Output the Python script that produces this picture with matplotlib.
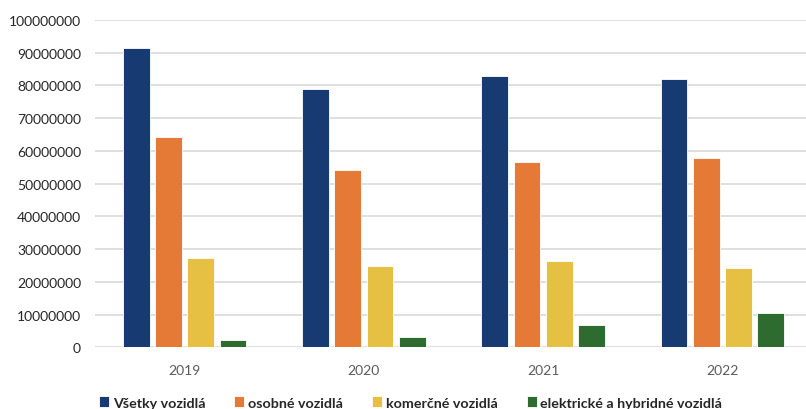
import matplotlib
matplotlib.use("Agg")
import matplotlib.pyplot as plt
import numpy as np

years = ["2019", "2020", "2021", "2022"]
series_names = ["Všetky vozidlá", "osobné vozidlá", "komerčné vozidlá",
                "elektrické a hybridné vozidlá"]
vsetky = [91300000, 78900000, 82900000, 81900000]
osobne = [64200000, 54100000, 56600000, 57700000]
komercne = [27300000, 24800000, 26400000, 24100000]
elektricke = [2300000, 3200000, 6700000, 10500000]
colors = ["#173a73", "#e57a37", "#e6c042", "#2e6b2f"]
y_ticks = list(range(0, 100000001, 10000000))

plt.rcParams["font.family"] = ["Lato", "DejaVu Sans"]

fig = plt.figure(figsize=(8.06, 4.10), dpi=100)
ax = fig.add_axes([95 / 806, 61.7 / 410, 717 / 806, 327.3 / 410])

x = np.arange(len(years))
width = 0.15
step = 0.18
handles = []
for i, (vals, name, c) in enumerate(zip([vsetky, osobne, komercne, elektricke],
                                         series_names, colors)):
    offs = (i - 1.5) * step
    b = ax.bar(x + offs, vals, width, color=c, edgecolor="#ffffff",
               linewidth=0.6, label=name, zorder=3)
    handles.append(b)

ax.set_xlim(-0.5, 3.5)
ax.set_ylim(0, 100000000)
ax.set_yticks(y_ticks)
ax.set_yticklabels([str(v) for v in y_ticks], fontsize=10, color="#262626")
ax.set_xticks(x)
ax.set_xticklabels(years, fontsize=10, color="#595959")
ax.tick_params(axis="both", length=0, pad=10)
ax.tick_params(axis="x", pad=12)
ax.grid(axis="y", color="#d9d9d9", linewidth=1.2, zorder=0)
for s in ax.spines.values():
    s.set_visible(False)

fig.legend(handles=handles, labels=series_names, loc="center left",
           bbox_to_anchor=(99 / 806, 6.5 / 410), ncol=4, frameon=False,
           handlelength=0.7, handleheight=0.7, handletextpad=0.25,
           columnspacing=2.05, borderaxespad=0, borderpad=0,
           prop={"weight": "bold", "size": 10.3}, labelcolor="#262626")

fig.savefig("out.png", dpi=100)
